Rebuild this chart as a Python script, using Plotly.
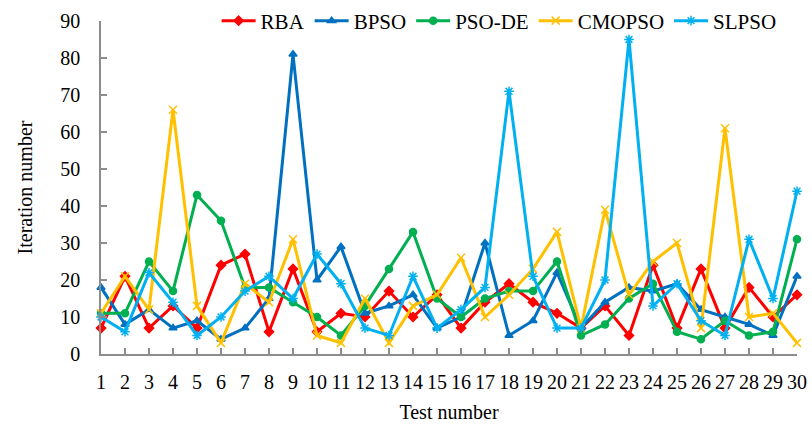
import plotly.graph_objects as go

tests = list(range(1, 31))
rba = [7, 21, 7, 13, 7, 24, 27, 6, 23, 6, 11, 10, 17, 10, 16, 7, 14, 19, 14, 11, 7, 13, 5, 24, 7, 23, 7, 18, 10, 16]
bpso = [18, 8, 12, 7, 9, 4, 7, 15, 81, 20, 29, 11, 13, 16, 7, 10, 30, 5, 9, 22, 7, 14, 18, 17, 19, 12, 10, 8, 5, 21]
psode = [11, 11, 25, 17, 43, 36, 18, 18, 14, 10, 5, 13, 23, 33, 15, 10, 15, 17, 17, 25, 5, 8, 15, 19, 6, 4, 9, 5, 6, 31]
cmopso = [11, 21, 12, 66, 13, 3, 19, 14, 31, 5, 3, 15, 3, 13, 16, 26, 10, 16, 23, 33, 7, 39, 16, 25, 30, 7, 61, 10, 11, 3]
slpso = [10, 6, 22, 14, 5, 10, 17, 21, 15, 27, 19, 7, 5, 21, 7, 12, 18, 71, 21, 7, 7, 20, 85, 13, 19, 9, 5, 31, 15, 44]
y_ticks = list(range(0, 91, 10))

series = [
    ("RBA", rba, "#FF0000", "diamond", 7),
    ("BPSO", bpso, "#0070C0", "triangle-up", 7),
    ("PSO-DE", psode, "#00B050", "circle", 7),
    ("CMOPSO", cmopso, "#FFC000", "x-thin-open", 8),
    ("SLPSO", slpso, "#00B0F0", "asterisk-open", 8),
]

font = "Liberation Serif"
fig = go.Figure()
for name, vals, color, sym, size in series:
    fig.add_trace(go.Scatter(
        x=tests, y=vals, name=name, mode="lines+markers",
        line=dict(color=color, width=3),
        marker=dict(symbol=sym, size=size, color=color,
                    line=dict(color=color, width=1.5)),
        cliponaxis=False,
    ))

fig.update_layout(
    width=812, height=424,
    margin=dict(l=101, r=15, t=0, b=70),
    plot_bgcolor="white", paper_bgcolor="white",
    font=dict(family=font, size=20, color="black"),
    showlegend=True,
    legend=dict(orientation="h", x=0.572, xanchor="center", y=1.0, yanchor="middle",
                bgcolor="rgba(0,0,0,0)", font=dict(size=21, family=font, color="black"),
                itemwidth=34),
    xaxis=dict(
        range=[1, 30], tickmode="array", tickvals=tests,
        ticktext=[str(t) for t in tests],
        showline=True, linecolor="#8c8c8c", linewidth=1.5,
        ticks="inside", ticklen=6, tickcolor="#8c8c8c", tickwidth=1.5,
        ticklabelstandoff=9,
        showgrid=False, zeroline=False,
        title=dict(text="Test number", font=dict(size=20, family=font, color="black"), standoff=13),
        tickfont=dict(size=20, family=font, color="black"),
    ),
    yaxis=dict(
        range=[0, 90], tickmode="array", tickvals=y_ticks,
        showline=True, linecolor="#8c8c8c", linewidth=1.5,
        ticks="inside", ticklen=6, tickcolor="#8c8c8c", tickwidth=1.5,
        ticklabelstandoff=15,
        showgrid=False, zeroline=False,
        title=dict(text="Iteration number", font=dict(size=20, family=font, color="black"), standoff=22),
        tickfont=dict(size=20, family=font, color="black"),
    ),
)

fig.write_html("out.html")
